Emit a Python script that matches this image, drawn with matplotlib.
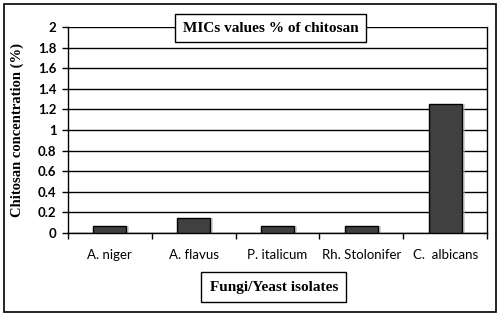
import numpy as np
import matplotlib.pyplot as plt
from matplotlib.patches import Rectangle

# Data
isolates = ['A. niger', 'A. flavus', 'P. italicum', 'Rh. Stolonifer', 'C.  albicans']
mic_values = [0.065, 0.145, 0.065, 0.065, 1.25]
y_ticks = [0, 0.2, 0.4, 0.6, 0.8, 1, 1.2, 1.4, 1.6, 1.8, 2]
y_tick_labels = ['0', '0.2', '0.4', '0.6', '0.8', '1', '1.2', '1.4', '1.6', '1.8', '2']

W, H = 501, 316
fig = plt.figure(figsize=(W / 100, H / 100), dpi=100)
ax = fig.add_axes([67.7 / W, 1 - 232.7 / H, (487.3 - 67.7) / W, (232.7 - 27.3) / H])

x = np.arange(len(isolates))
# soft shadow to the right of each bar
ax.bar(x + 0.035, mic_values, width=0.4, color='#b8b8b8', alpha=0.6, zorder=2, linewidth=0)
ax.bar(x, mic_values, width=0.4, color='#404040', edgecolor='black', linewidth=1.0, zorder=3)

ax.set_xlim(-0.5, len(isolates) - 0.5)
ax.set_ylim(0, 2)
ax.set_yticks(y_ticks)
ax.set_yticklabels(y_tick_labels, fontfamily='Lato', fontweight='bold', fontsize=9.5)
ax.yaxis.grid(True, color='black', linewidth=1.0, zorder=1)
ax.set_axisbelow(True)

ax.set_xticks(x)
ax.set_xticklabels(isolates, fontfamily='Lato', fontsize=9.5)
ax.tick_params(axis='x', length=0, pad=12)
ax.set_xticks(np.arange(len(isolates) + 1) - 0.5, minor=True)
ax.tick_params(axis='x', which='minor', length=4, width=1.0, direction='out')
ax.tick_params(axis='y', length=4, width=1.0, pad=4)
for s in ax.spines.values():
    s.set_linewidth(1.0)
ax.spines['top'].set_visible(False)

# outer border
fig.patches.append(Rectangle((4 / W, 4 / H), 492 / W, 308 / H, transform=fig.transFigure,
                             fill=False, edgecolor='black', linewidth=1.2))

fig.text(17 / W, 1 - 130 / H, 'Chitosan concentration (%)', rotation=90, ha='center', va='center',
         fontfamily='Liberation Serif', fontweight='bold', fontsize=10.5)

fig.text(270.7 / W, 1 - 28 / H, 'MICs values % of chitosan', ha='center', va='center',
         fontfamily='Liberation Serif', fontweight='bold', fontsize=11, zorder=5,
         bbox=dict(boxstyle='square,pad=0.5', facecolor='white', edgecolor='black', linewidth=1.0))

fig.text(273.8 / W, 1 - 287 / H, 'Fungi/Yeast isolates', ha='center', va='center',
         fontfamily='Liberation Serif', fontweight='bold', fontsize=11,
         bbox=dict(boxstyle='square,pad=0.55', facecolor='white', edgecolor='black', linewidth=1.0))

fig.savefig('out.png', dpi=100)
